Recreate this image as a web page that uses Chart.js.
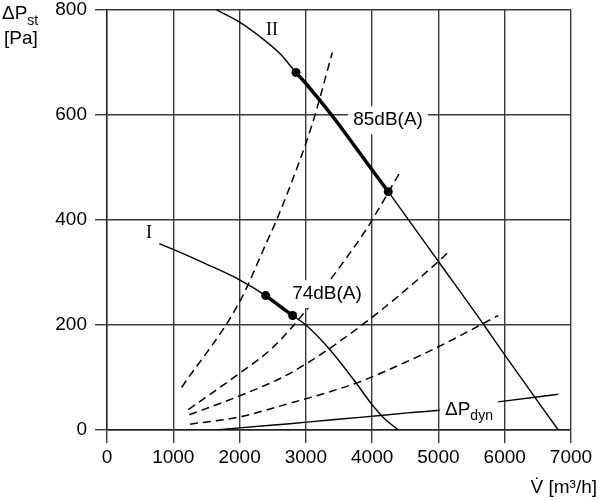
<!DOCTYPE html>
<html>
<head>
<meta charset="utf-8">
<script src="https://cdn.jsdelivr.net/npm/chart.js@4/dist/chart.umd.min.js"></script>
<style>
  body { margin: 0; background: #fff; }
</style>
</head>
<body>
<canvas id="myChart" width="600" height="500"></canvas>
<script>
// values (V in m3/h, pressure in Pa)

// fan curve II (upper)
const fan2X = [1655, 2000, 2300, 2600, 2851, 3000, 3388, 3967, 4243, 5000, 5687, 6000, 6808];
const fan2Y = [800, 777, 750, 718, 681, 660, 600, 501, 454, 321, 200, 143, 0];

// fan curve I (lower)
const fan1X = [789, 1000, 1500, 2000, 2394, 2801, 3000, 3364, 3756, 4000, 4168, 4395];
const fan1Y = [355, 344, 316, 286, 256, 218, 200, 153, 90, 48, 24, 0];

// operating ranges (between the dots)
const range1 = [2394, 2801];
const range2 = [2851, 4243];

// system curves (dashed)
const sys1X = [1126, 2000, 2424, 2559, 3000, 3138, 3399];
const sys1Y = [81, 244, 362, 400, 546, 600, 719];
const sys2X = [1227, 2000, 2500, 3012, 3917, 4000, 4444];
const sys2Y = [39, 108, 157, 229, 383, 400, 496];
const sys3X = [1242, 2000, 2760, 3816, 5000, 5183];
const sys3Y = [29, 65, 108, 197, 321, 343];
const sys4X = [1252, 2000, 2760, 3364, 3817, 4571, 5008, 5903];
const sys4Y = [11, 25, 51, 73, 92, 133, 159, 218];

// dynamic pressure
const dynX = [1655, 2000, 2760, 3364, 3817, 4571, 5049, 5928, 6808];
const dynY = [0, 4, 12, 19, 24, 33, 38, 54, 68];

// dots at the ends of the operating ranges
const dotX = [2394, 2801, 2851, 4243];
const dotY = [256, 218, 681, 454];

const xMax = 7000;
const yMax = 800;

function pts(xs, ys) {
  return xs.map((x, i) => ({ x: x, y: ys[i] }));
}

function inRange(xs, ys, r) {
  return pts(xs, ys).filter((p) => p.x >= r[0] && p.x <= r[1]);
}

const FONT = '"Liberation Sans", Arial, sans-serif';

function thin(data) {
  return { data: data, showLine: true, borderColor: "#000", borderWidth: 1.4, pointRadius: 0, cubicInterpolationMode: "monotone" };
}
function dashed(data) {
  return { data: data, showLine: true, borderColor: "#000", borderWidth: 1.5, borderDash: [8, 5], pointRadius: 0, cubicInterpolationMode: "monotone" };
}
function thick(data) {
  return { data: data, showLine: true, borderColor: "#000", borderWidth: 3.5, pointRadius: 0, cubicInterpolationMode: "monotone" };
}

// text labels placed at data coordinates, some with a white box behind
const textLabels = [
  { text: "II", x: 2489, y: 762, font: '18px "Liberation Serif", serif', cover: null },
  { text: "I", x: 634, y: 375, font: '18px "Liberation Serif", serif', cover: null },
  { text: "85dB(A)", x: 4240, y: 590, font: "19px " + FONT, cover: "before" },
  { text: "74dB(A)", x: 3319, y: 259, font: "19px " + FONT, cover: "after" },
  { text: "ΔP", sub: "dyn", x: 5099, y: 38, font: "19px " + FONT, subFont: "14px " + FONT, cover: "after", left: true },
];

function labelBox(ctx, chart, l) {
  const xs = chart.scales.x, ys = chart.scales.y;
  ctx.font = l.font;
  let w = ctx.measureText(l.text).width;
  if (l.sub) {
    ctx.font = l.subFont;
    w += ctx.measureText(l.sub).width;
  }
  const cx = xs.getPixelForValue(l.x);
  const cy = ys.getPixelForValue(l.y);
  const left = l.left ? cx : cx - w / 2;
  return { left: left, cy: cy, w: w };
}

function drawCover(ctx, chart, when) {
  textLabels.forEach((l) => {
    if (l.cover !== when) return;
    const b = labelBox(ctx, chart, l);
    ctx.fillStyle = "#fff";
    ctx.fillRect(b.left - 5, b.cy - 14, b.w + 10, 28);
  });
}

const labelPlugin = {
  id: "labels",
  beforeDatasetsDraw(chart) {
    const ctx = chart.ctx;
    ctx.save();
    drawCover(ctx, chart, "before");
    ctx.restore();
  },
  afterDatasetsDraw(chart) {
    const ctx = chart.ctx;
    ctx.save();
    drawCover(ctx, chart, "after");
    ctx.fillStyle = "#000";
    ctx.textBaseline = "middle";
    ctx.textAlign = "left";
    textLabels.forEach((l) => {
      const b = labelBox(ctx, chart, l);
      ctx.font = l.font;
      ctx.fillText(l.text, b.left, b.cy);
      if (l.sub) {
        const w = ctx.measureText(l.text).width;
        ctx.font = l.subFont;
        ctx.fillText(l.sub, b.left + w, b.cy + 6);
      }
    });
    ctx.restore();
  },
  afterDraw(chart) {
    // axis titles
    const ctx = chart.ctx;
    ctx.save();
    ctx.fillStyle = "#000";
    ctx.textBaseline = "alphabetic";
    ctx.textAlign = "left";
    ctx.font = "19px " + FONT;
    ctx.fillText("ΔP", 2, 19);
    const w = ctx.measureText("ΔP").width;
    ctx.font = "14px " + FONT;
    ctx.fillText("st", 2 + w, 25);
    ctx.font = "19px " + FONT;
    ctx.fillText("[Pa]", 4, 44);
    ctx.textAlign = "right";
    ctx.fillText("V̇ [m³/h]", 597, 493);
    ctx.restore();
  },
};

const ctx = document.getElementById("myChart");

const myChart = new Chart(ctx, {
  type: "scatter",
  data: {
    datasets: [
      thin(pts(fan2X, fan2Y)),
      thin(pts(fan1X, fan1Y)),
      thick(inRange(fan2X, fan2Y, range2)),
      thick(inRange(fan1X, fan1Y, range1)),
      dashed(pts(sys1X, sys1Y)),
      dashed(pts(sys2X, sys2Y)),
      dashed(pts(sys3X, sys3Y)),
      dashed(pts(sys4X, sys4Y)),
      thin(pts(dynX, dynY)),
      {
        data: pts(dotX, dotY),
        showLine: false,
        pointRadius: 4.5,
        pointBackgroundColor: "#000",
        pointBorderColor: "#000",
        pointBorderWidth: 0,
      },
    ],
  },
  options: {
    responsive: false,
    animation: false,
    events: [],
    layout: { padding: { top: 10, right: 29, left: 0, bottom: 0 } },
    plugins: {
      legend: { display: false },
      tooltip: { enabled: false },
    },
    scales: {
      x: {
        type: "linear",
        min: 0,
        max: xMax,
        afterFit: (scale) => {
          scale.height = 70;
          scale.paddingLeft = 0;
          scale.paddingRight = 0;
        },
        ticks: { stepSize: 1000, color: "#000", padding: 3, maxRotation: 0, font: { family: FONT, size: 19 }, callback: (v) => String(v) },
        grid: { color: "#3a3a3a", lineWidth: 1.4, tickLength: 13, drawTicks: true },
        border: { color: "#222", width: 1.4 },
      },
      y: {
        type: "linear",
        min: 0,
        max: yMax,
        afterFit: (scale) => {
          scale.width = 107;
          scale.paddingTop = 0;
          scale.paddingBottom = 0;
        },
        ticks: { stepSize: 200, color: "#000", padding: 8, font: { family: FONT, size: 19 }, callback: (v) => String(v) },
        grid: { color: "#3a3a3a", lineWidth: 1.4, tickLength: 12, drawTicks: true },
        border: { color: "#222", width: 1.4 },
      },
    },
  },
  plugins: [labelPlugin],
});
</script>
</body>
</html>
